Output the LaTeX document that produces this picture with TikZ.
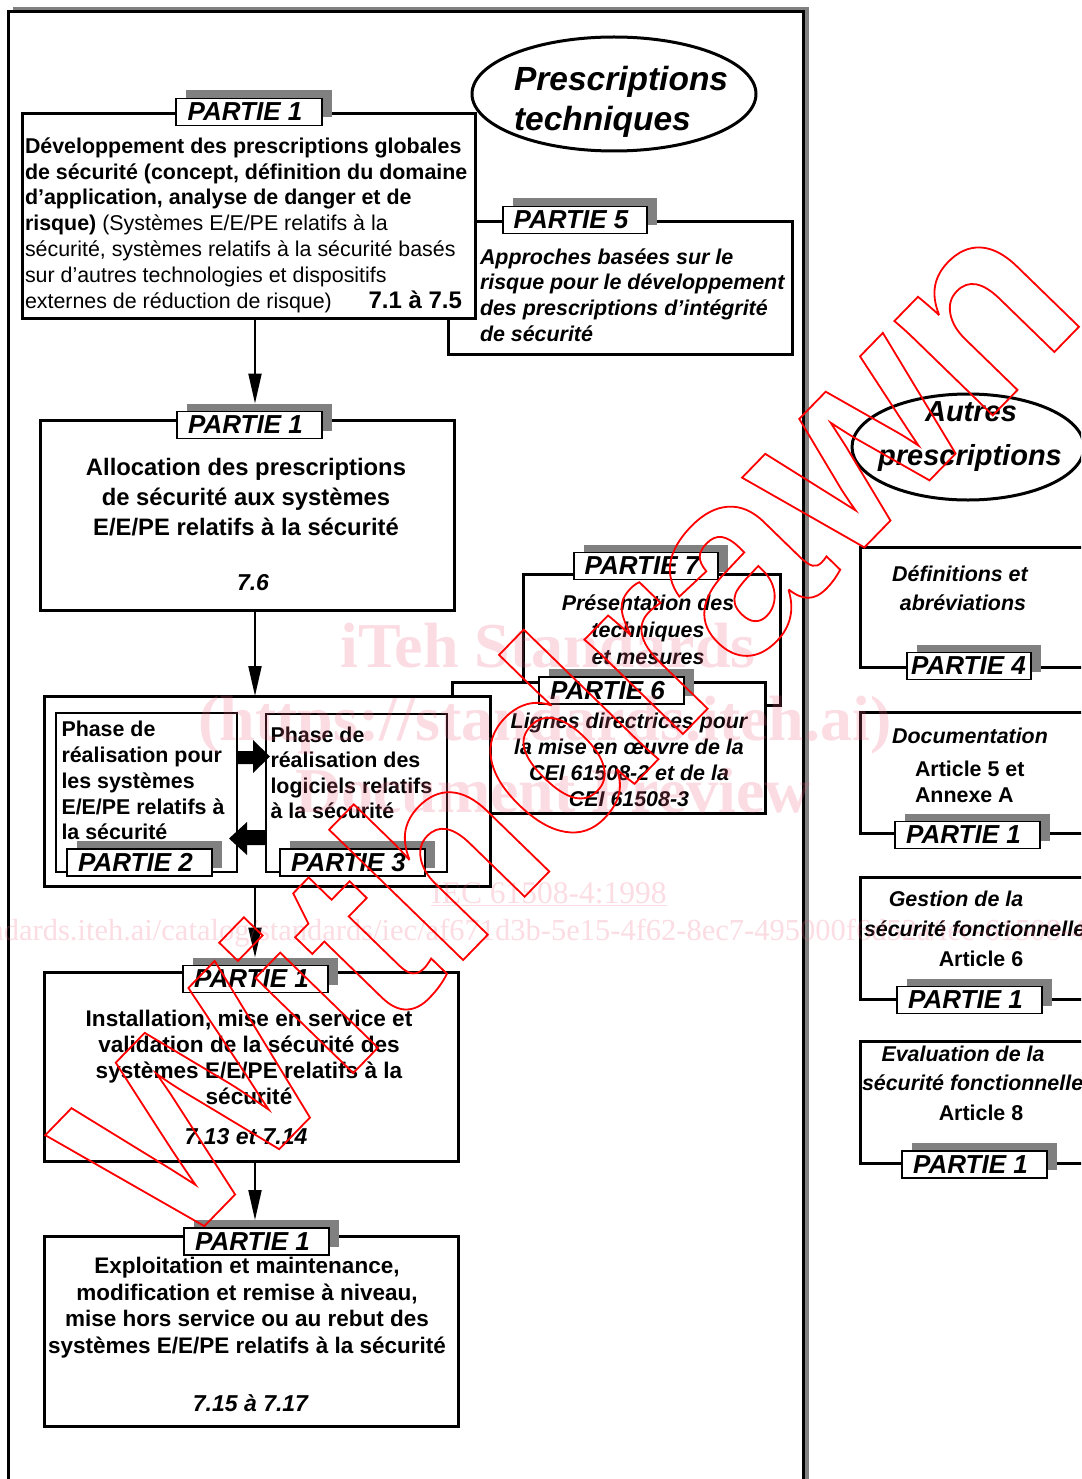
\documentclass[tikz,border=0pt]{standalone}
\usepackage{fontspec}
\setmainfont{Liberation Sans}
\newfontfamily\wmserif{Liberation Serif}
\usetikzlibrary{arrows.meta,calc,shapes.geometric}
\definecolor{shadowgray}{RGB}{128,128,128}
\definecolor{wmpink}{RGB}{240,100,130}
\newcommand\outl[1]{\special{pdf:literal direct 1 Tr 1.8 w}#1\special{pdf:literal direct 0 Tr}}
\newcommand\fs[2]{\fontsize{#1}{#2}\selectfont}
\tikzset{
  every node/.style={inner sep=0pt, outer sep=0pt},
  box/.style={draw=black, line width=3pt, fill=white, anchor=north west},
  thinbox/.style={draw=black, line width=1.2pt, fill=white, anchor=north west},
  lblshadow/.style={fill=shadowgray, minimum height=27pt},
  lbl/.style={draw=black, line width=1.3pt, fill=white, minimum height=27pt, font=\fs{26}{26}\bfseries\itshape},
  conn/.style={line width=2pt, -{Triangle[length=30pt,width=13pt]}},
  blockarrow/.style={fill=black, draw=none},
  oval/.style={draw=black, line width=3pt, fill=white, ellipse},
  txt/.style={font=\fs{21.4}{25.8}\bfseries, align=left, anchor=north west},
  txti/.style={font=\fs{21.4}{25.8}\bfseries\itshape, anchor=base},
  txtb/.style={font=\fs{21.4}{25.8}\bfseries, anchor=base},
  num/.style={font=\fs{23}{23}\bfseries\itshape, anchor=base},
  wmtext/.style={text=wmpink, text opacity=0.22},
}
\newcommand\partie[5]{%
  \node[lblshadow, minimum width=#4pt] (#1s) at (#2+10,#3-8) {};
  \node[lbl, minimum width=#4pt] (#1) at (#2,#3) {\hspace*{-8pt}#5};
}
\begin{document}
\begin{tikzpicture}[x=1pt,y=-1pt]
\useasboundingbox (0,0) rectangle (1081,1479);
\clip (0,0) rectangle (1081,1479);

% outer frame with shadow
\fill[shadowgray] (13,7) rectangle (809,1495);
\draw[line width=3pt, fill=white] (8,1495) -- (8,12) -- (803,12) -- (803,1495);

% ellipse technical requirements
\node[oval, minimum width=284pt, minimum height=114pt] (e1) at (614,94) {};
\node[font=\fs{33.5}{40}\bfseries\itshape, align=left, anchor=north west] (e1t) at (514,66) {\rule{0pt}{24pt}Prescriptions\\techniques};

% boxes
\node[box, minimum width=344pt, minimum height=132pt] (b5) at (448,222) {};
\node[box, minimum width=453pt, minimum height=204pt] (b1) at (22,114) {};
\node[box, minimum width=414pt, minimum height=190pt] (b2) at (40,420) {};
\node[box, minimum width=257pt, minimum height=131pt] (b7) at (523,574) {};
\node[box, minimum width=313pt, minimum height=131pt] (b6) at (452,682) {};
\node[box, minimum width=446pt, minimum height=190pt] (b3) at (44,696) {};
\node[thinbox, minimum width=181pt, minimum height=159pt] (i2) at (56,713) {};
\node[thinbox, minimum width=181pt, minimum height=158pt] (i3) at (266,714) {};
\node[box, minimum width=414pt, minimum height=189pt] (b4) at (44,972) {};
\node[box, minimum width=414pt, minimum height=190pt] (b8) at (44,1236) {};

% right column
\node[oval, minimum width=232pt, minimum height=106pt] (e2) at (968,447) {};
\node[box, minimum width=260pt, minimum height=120pt] (r4) at (860,547) {};
\node[box, minimum width=260pt, minimum height=121pt] (rd) at (860,712) {};
\node[box, minimum width=260pt, minimum height=122pt] (rg) at (860,877) {};
\node[box, minimum width=260pt, minimum height=122pt] (re) at (860,1041) {};

% block arrows between the realisation phases
\fill[blockarrow] (237,751) -- (253,751) -- (253,740) -- (270,756.5) -- (253,773) -- (253,764) -- (237,764) -- cycle;
\fill[blockarrow] (266,830) -- (247,830) -- (247,822) -- (229,838.5) -- (247,855) -- (247,845) -- (266,845) -- cycle;

% labels
\partie{l1a}{249}{112}{146}{PARTIE 1}
\partie{l5}{575}{220}{144}{PARTIE 5}
\partie{l1b}{249.5}{425}{145}{PARTIE 1}
\partie{l7}{646}{566}{144}{PARTIE 7}
\partie{l6}{611.5}{690.5}{145}{PARTIE 6}
\partie{l2}{139.5}{862.5}{145}{PARTIE 2}
\partie{l3}{352.5}{862.5}{145}{PARTIE 3}
\partie{l1c}{255.5}{979}{145}{PARTIE 1}
\partie{l1d}{256.5}{1241.5}{145}{PARTIE 1}
\partie{l4}{969}{666}{124}{\hspace*{7pt}PARTIE 4}
\partie{l1e}{967.5}{835}{145}{PARTIE 1}
\partie{l1f}{969.5}{1000}{145}{PARTIE 1}
\partie{l1g}{974.5}{1164.5}{145}{PARTIE 1}

% connectors
\coordinate (ax) at (255,0);
\draw[conn] (b1.south -| ax) -- (l1bs.north -| ax);
\draw[conn] (b2.south -| ax) -- (b3.north -| ax);
\draw[conn] (b3.south -| ax) -- (l1cs.north -| ax);
\draw[conn] (b4.south -| ax) -- (l1ds.north -| ax);

% texts
\node[txt, font=\fs{21.4}{25.8}] (t1) at (25,133.3) {\rule{0pt}{20pt}\textbf{Développement des prescriptions globales}\\
\textbf{de sécurité (concept, définition du domaine}\\
\textbf{d’application, analyse de danger et de}\\
\textbf{risque)} (Systèmes E/E/PE relatifs à la\\
sécurité, systèmes relatifs à la sécurité basés\\
sur d’autres technologies et dispositifs\\
externes de réduction de risque)};
\node[font=\fs{24}{24}\bfseries, anchor=base east] (t1n) at (462,308) {7.1 à 7.5};

\node[txt, font=\fs{21.4}{25.9}\bfseries\itshape] (t5) at (480,244) {\rule{0pt}{20pt}Approches basées sur le\\
risque pour le développement\\
des prescriptions d’intégrité\\
de sécurité};

\node[txt, align=center, anchor=north, font=\fs{23.8}{30}\bfseries] (t2) at (246,453) {\rule{0pt}{22pt}Allocation des prescriptions\\
de sécurité aux systèmes\\
E/E/PE relatifs à la sécurité};
\node[num] (t2n) at (253,590) {7.6};

\node[txt] (ti2) at (61.5,716.7) {\rule{0pt}{20pt}Phase de\\réalisation pour\\les systèmes\\E/E/PE relatifs à\\la sécurité};
\node[txt, font=\fs{21.4}{25.2}\bfseries] (ti3) at (270.5,722.7) {\rule{0pt}{20pt}Phase de\\réalisation des\\logiciels relatifs\\à la sécurité};

\node[txt, align=center, anchor=north, font=\fs{21.4}{26.7}\bfseries\itshape] (t7) at (648,590.7) {\rule{0pt}{20pt}Présentation des\\techniques\\et mesures};
\node[txt, align=center, anchor=north, font=\fs{21.4}{26.1}\bfseries\itshape] (t6) at (629,708.3) {\rule{0pt}{20pt}Lignes directrices pour\\la mise en œuvre de la\\CEI 61508-2 et de la\\CEI 61508-3};

\node[txt, align=center, anchor=north, font=\fs{22.6}{26.3}\bfseries] (t4) at (249,1006) {\rule{0pt}{20pt}Installation, mise en service et\\validation de la sécurité des\\systèmes E/E/PE relatifs à la\\sécurité};
\node[num] (t4n) at (246,1144.3) {7.13 et 7.14};

\node[txt, align=center, anchor=north, font=\fs{22.5}{26.7}\bfseries] (t8) at (247,1253.3) {\rule{0pt}{20pt}Exploitation et maintenance,\\modification et remise à niveau,\\mise hors service ou au rebut des\\systèmes E/E/PE relatifs à la sécurité};
\node[num] (t8n) at (250.5,1411.7) {7.15 à 7.17};

% right column texts
\node[font=\fs{29}{29}\bfseries\itshape, anchor=base] (e2a) at (971,421.7) {Autres};
\node[font=\fs{29}{29}\bfseries\itshape, anchor=base] (e2b) at (970,465) {prescriptions};
\node[txti] (r4a) at (960,581.7) {Définitions et};
\node[txti] (r4b) at (963,610) {abréviations};
\node[txti] (rda) at (970,743.3) {Documentation};
\node[txtb, anchor=base west] (rdb) at (915,776) {Article 5 et};
\node[txtb, anchor=base west] (rdc) at (915,802.7) {Annexe A};
\node[txti] (rga) at (956,906.7) {Gestion de la};
\node[txti, anchor=base west] (rgb) at (864,936.7) {sécurité fonctionnelle};
\node[txtb] (rgc) at (981,966) {Article 6};
\node[txti] (rea) at (963,1061.7) {Evaluation de la};
\node[txti, anchor=base west] (reb) at (862,1090) {sécurité fonctionnelle};
\node[txtb] (rec) at (981,1120) {Article 8};

% watermarks
\node[wmtext, font=\wmserif\fs{64}{64}\bfseries, anchor=base] (w1) at (548,667) {iTeh Standards};
\node[wmtext, font=\wmserif\fs{64}{64}\bfseries, anchor=base] (w2) at (545,740) {(https://standards.iteh.ai)};
\node[wmtext, font=\wmserif\fs{64}{64}\bfseries, anchor=base] (w3) at (553,812) {Document Preview};
\node[wmtext, font=\wmserif\fs{31.5}{31.5}, anchor=base] (w4) at (549,903) {\underline{IEC 61508-4:1998}};
\node[wmtext, font=\wmserif\fs{30.5}{30.5}, anchor=base west] (w5) at (-130,940) {https://standards.iteh.ai/catalog/standards/iec/af671d3b-5e15-4f62-8ec7-495000f6d52a/iec-61508-4-1998};
\node[rotate=45.8, text=red, font=\fs{258}{258}\bfseries] (wm) at (565,723) {\outl{Withdrawn}};
\end{tikzpicture}
\end{document}
